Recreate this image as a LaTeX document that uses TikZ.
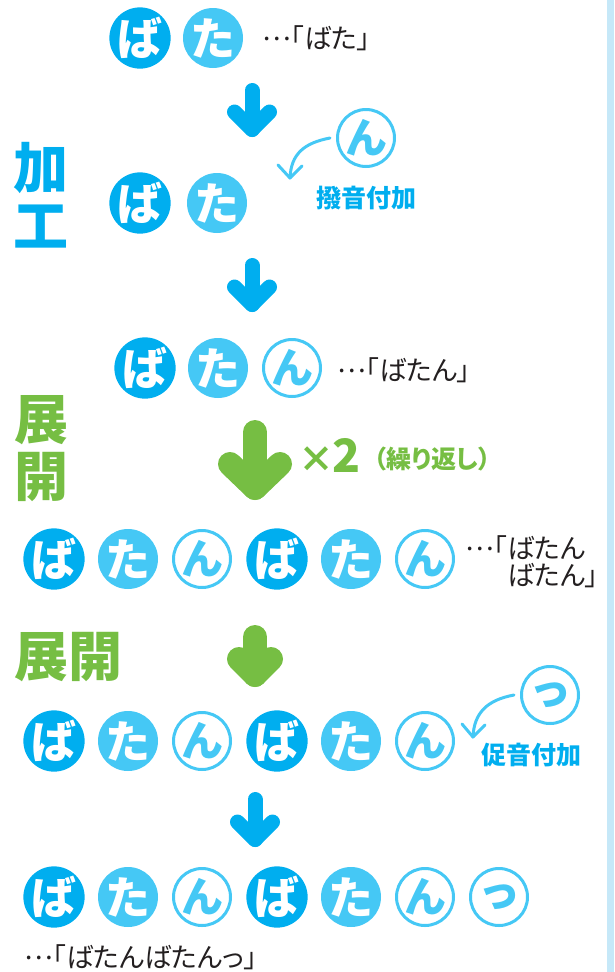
\documentclass[tikz,border=0pt]{standalone}
\usepackage{fontspec}
\newfontfamily\jp{Noto Sans CJK JP}
\newfontfamily\jpp[RawFeature=+palt]{Noto Sans CJK JP}
\usetikzlibrary{calc}
\newcommand\middots{\raisebox{0.3em}{…}}
\definecolor{cdark}{HTML}{00AEEF}
\definecolor{clight}{HTML}{45C8F5}
\definecolor{cgreen}{HTML}{76BE43}
\definecolor{ctext}{HTML}{231F20}
\definecolor{cstrip}{HTML}{C6E8F8}
\tikzset{
  dk/.style={circle, fill=cdark, minimum size=60pt, inner sep=0pt, text=white, font=\jp\bfseries\fontsize{45}{45}\selectfont},
  lt/.style={circle, fill=clight, minimum size=60pt, inner sep=0pt, text=white, font=\jp\bfseries\fontsize{45}{45}\selectfont},
  ol/.style={circle, draw=clight, line width=3pt, minimum size=57pt, inner sep=0pt, text=clight, font=\jp\bfseries\fontsize{42}{42}\selectfont},
  note/.style={anchor=west, inner sep=0pt, text=ctext, font=\jpp\fontsize{27}{27}\selectfont},
  lab/.style={inner sep=0pt, text=cdark, font=\jp\bfseries\fontsize{25}{25}\selectfont},
  sidek/.style={inner sep=0pt, text=cdark, font=\jp\bfseries\fontsize{55}{55}\selectfont},
  sideg/.style={inner sep=0pt, text=cgreen, font=\jp\bfseries\fontsize{54}{54}\selectfont},
  barrow/.style={draw=cdark, line width=15pt, line cap=round, line join=round},
  garrow/.style={draw=cgreen, line width=24pt, line cap=round, line join=round},
  carrow/.style={draw=clight, line width=3pt, line cap=round, line join=round},
}
\begin{document}
\begin{tikzpicture}[x=1pt,y=-1pt]
\useasboundingbox (0,0) rectangle (614,972);
\fill[cstrip] (607,0) rectangle (614,972);

% row 1
\node[dk] (r1a) at (140,38) {ば};
\node[lt] (r1b) at (213,38) {た};
\node[note] (t1) at (262,38) {\middots「ばた」};

% arrow 1
\coordinate (a1s) at (252,90.5);
\coordinate (a1t) at (252,129.5);
\draw[barrow] (a1s) -- (a1t);
\draw[barrow] ($(a1t)+(-17.5,-17.5)$) -- (a1t) -- ($(a1t)+(17.5,-17.5)$);

% row 2
\node[sidek] (k1) at (41,168) {加};
\node[sidek] (k2) at (41,227) {工};
\node[dk] (r2a) at (140,203) {ば};
\node[lt] (r2b) at (217,203) {た};
\node[ol] (r2n) at (366,138) {ん};
\node[lab] (l1) at (366,198) {撥音付加};
\coordinate (c1tip) at (290,178);
\draw[carrow] ([xshift=-6pt]r2n.west) .. controls (304,143) and (291,154) .. (c1tip);
\draw[carrow] ($(c1tip)+(-12,-13)$) -- (c1tip) -- ($(c1tip)+(12,-12)$);

% arrow 2
\coordinate (a2s) at (252,265.5);
\coordinate (a2t) at (252,304.5);
\draw[barrow] (a2s) -- (a2t);
\draw[barrow] ($(a2t)+(-17.5,-17.5)$) -- (a2t) -- ($(a2t)+(17.5,-17.5)$);

% row 3
\node[dk] (r3a) at (145,368) {ば};
\node[lt] (r3b) at (218,368) {た};
\node[ol] (r3c) at (292,368) {ん};
\node[note] (t3) at (337,370) {\middots「ばたん」};

% 展開 vertical
\node[sideg] (g1) at (41,420) {展};
\node[sideg] (g2) at (41,477) {開};

% green arrow 1
\coordinate (ga1s) at (255,432);
\coordinate (ga1t) at (255,488);
\draw[garrow] (ga1s) -- (ga1t);
\draw[garrow] ($(ga1t)+(-25,-24)$) -- (ga1t) -- ($(ga1t)+(25,-24)$);
\node[anchor=west, inner sep=0pt, text=cgreen] (x2) at (298,455)
  {\jp\bfseries\fontsize{36}{36}\selectfont ×\kern-2pt\fontsize{46}{46}\selectfont 2};
\node[anchor=west, inner sep=0pt, text=cgreen, font=\jpp\bfseries\fontsize{25}{25}\selectfont] (rep) at (374,459) {（繰り返し）};

% row 4
\foreach \n/\x/\s/\c in {a/54/dk/ば, b/128/lt/た, c/202/ol/ん, d/277/dk/ば, e/351/lt/た, f/425/ol/ん}
  \node[\s] (r4\n) at (\x,559) {\c};
\node[note] (t4a) at (465,548) {\middots「ばたん};
\node[note] (t4b) at (507,576) {ばたん」};

% 展開 horizontal
\node[sideg] (g3) at (68,657) {展開};

% green arrow 2
\coordinate (ga2s) at (255,637);
\coordinate (ga2t) at (255,675);
\draw[garrow] (ga2s) -- (ga2t);
\draw[garrow] ($(ga2t)+(-16,-16)$) -- (ga2t) -- ($(ga2t)+(16,-16)$);

% row 5
\foreach \n/\x/\s/\c in {a/54/dk/ば, b/128/lt/た, c/202/ol/ん, d/277/dk/ば, e/351/lt/た, f/425/ol/ん}
  \node[\s] (r5\n) at (\x,741) {\c};
\node[ol] (r5t) at (550,695) {っ};
\node[lab] (l2) at (531,755) {促音付加};
\coordinate (c2tip) at (473,737);
\draw[carrow] ([xshift=-6pt]r5t.west) .. controls (487,700) and (474,713) .. (c2tip);
\draw[carrow] ($(c2tip)+(-11,-13)$) -- (c2tip) -- ($(c2tip)+(12,-12)$);

% arrow 4
\coordinate (a4s) at (255,799.5);
\coordinate (a4t) at (255,839.5);
\draw[barrow] (a4s) -- (a4t);
\draw[barrow] ($(a4t)+(-17.5,-17.5)$) -- (a4t) -- ($(a4t)+(17.5,-17.5)$);

% row 6
\foreach \n/\x/\s/\c in {a/54/dk/ば, b/128/lt/た, c/202/ol/ん, d/277/dk/ば, e/351/lt/た, f/425/ol/ん, g/499/ol/っ}
  \node[\s] (r6\n) at (\x,897) {\c};
\node[note] (t6) at (24,957) {\middots「ばたんばたんっ」};
\end{tikzpicture}
\end{document}
